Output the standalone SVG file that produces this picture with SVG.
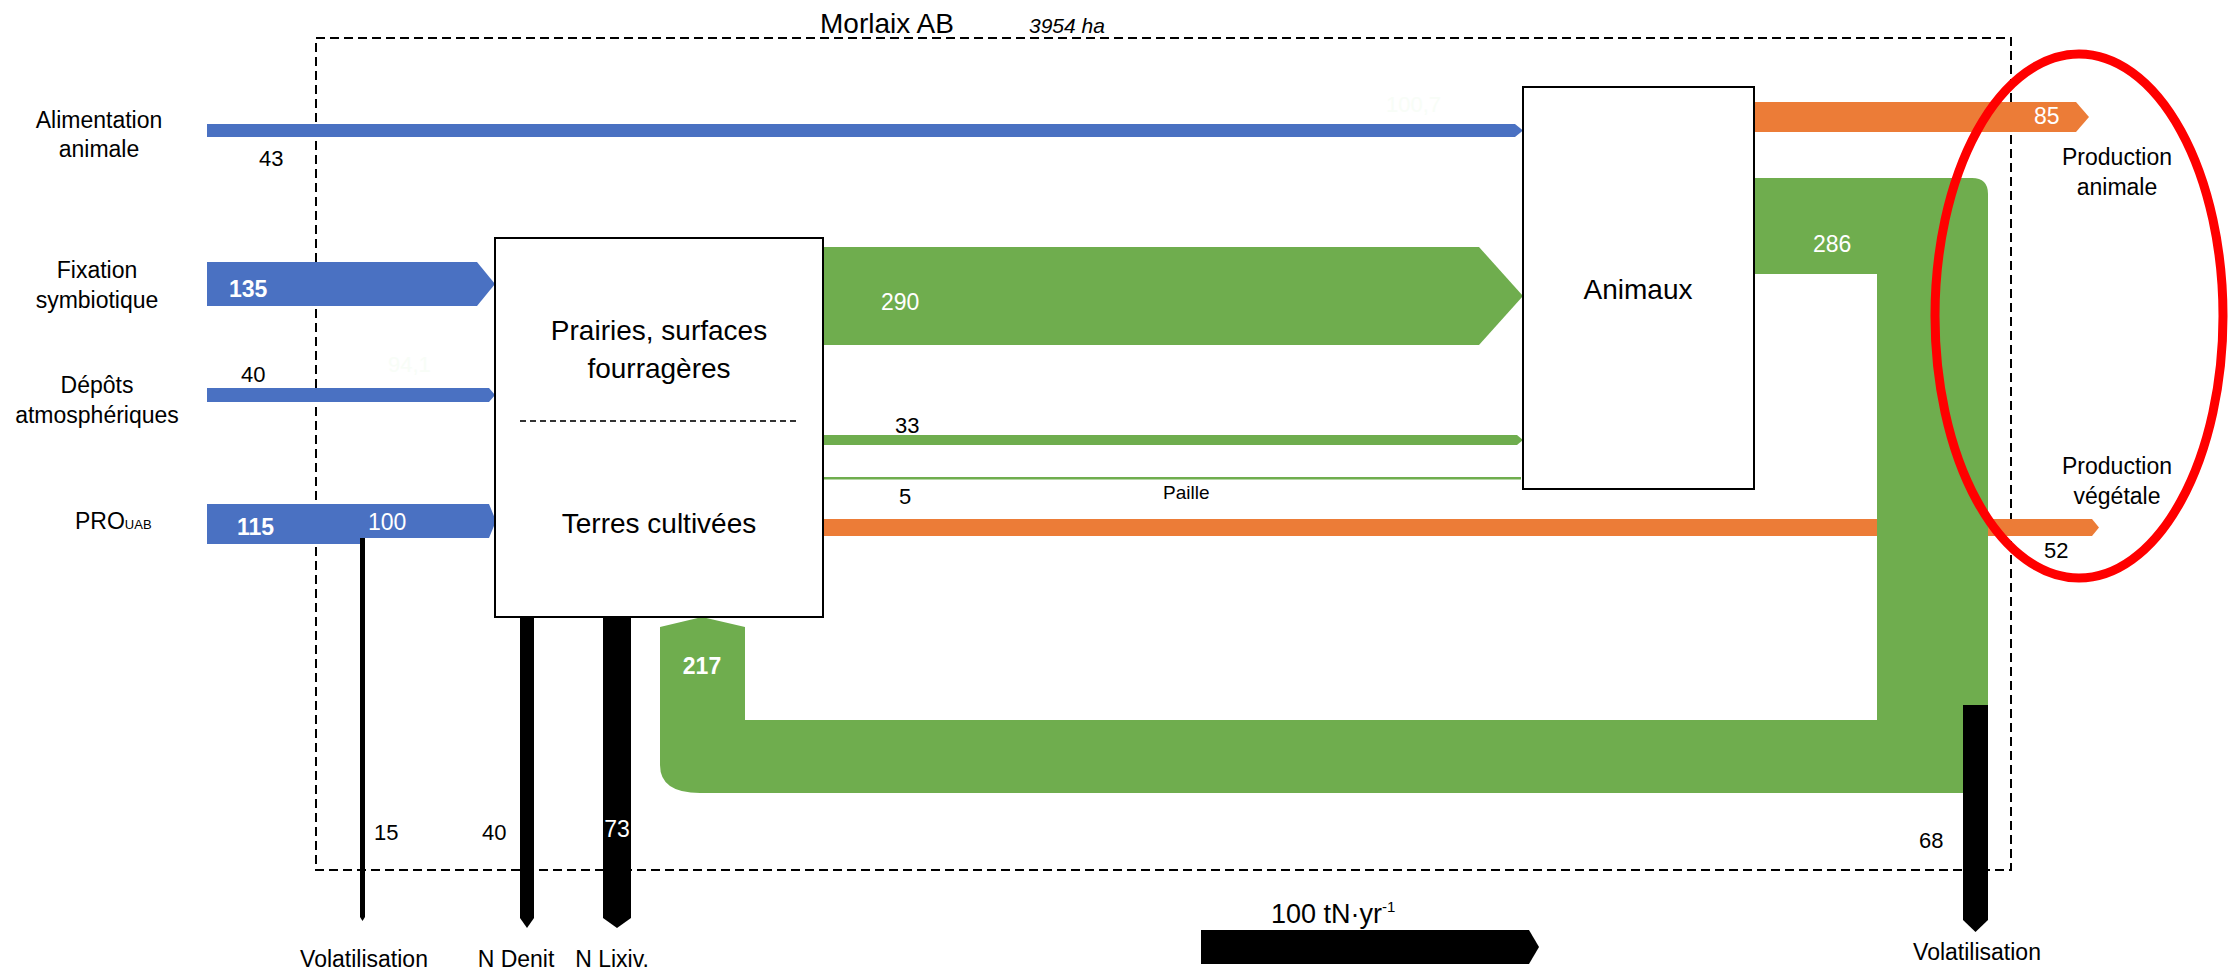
<svg xmlns="http://www.w3.org/2000/svg" width="2228" height="973" viewBox="0 0 2228 973">
  <style>
    text { font-family: "Liberation Sans", Arial, sans-serif; fill: #000; }
    .lbl { font-size: 23px; text-anchor: middle; }
    .num { font-size: 22px; }
    .wnum { font-size: 23px; fill: #fff; }
    .bold { font-weight: bold; }
    .box { fill: #fff; stroke: #000; stroke-width: 2; }
    .boxtxt { font-size: 28px; text-anchor: middle; }
    .blue { fill: #4A71C2; }
    .green { fill: #6FAD4E; }
    .orange { fill: #EC7C37; }
    .black { fill: #000; }
    .faint { font-size: 22px; fill: #F8FDF7; }
  </style>

  <rect width="2228" height="973" fill="#fff"/>

  <!-- system boundary -->
  <g id="boundary">
    <rect x="316" y="38" width="1695" height="832" fill="none" stroke="#000" stroke-width="2" stroke-dasharray="9 5"/>
    <text x="820" y="33" font-size="28">Morlaix AB</text>
    <text x="1029" y="33" font-size="21" font-style="italic">3954 ha</text>
  </g>

  <g id="connectors">
    <!-- inputs -->
    <polygon class="blue" points="207,124 1515,124 1523,130.5 1515,137 207,137"/>
    <polygon class="blue" points="207,262 477,262 495,284 477,306 207,306"/>
    <polygon class="blue" points="207,388 489,388 495,395 489,402 207,402"/>
    <polygon class="blue" points="207,504 489,504 496,521 489,538 364,538 364,544 207,544"/>

    <!-- losses -->
    <polygon class="black" points="360,538 365,538 365,917 362.5,921 360,917"/>
    <polygon class="black" points="520,617 534,617 534,918 527,928 520,918"/>
    <polygon class="black" points="603,617 631,617 631,918 617,928 603,918"/>

    <!-- crops to animals -->
    <polygon class="green" points="823,247 1479,247 1523,296 1479,345 823,345"/>
    <polygon class="green" points="823,435 1517,435 1523,440 1517,445 823,445"/>
    <rect class="green" x="823" y="477" width="698" height="2.5"/>

    <!-- outputs -->
    <polygon class="orange" points="823,519 2092,519 2099,527.5 2092,536 823,536"/>
    <polygon class="orange" points="1754,102 2076,102 2089,117 2076,132 1754,132"/>

    <!-- manure return loop -->
    <path class="green" d="M1754,178 H1972 Q1988,178 1988,194 V793 H700 Q660,793 660,765 V627 L702,617 L745,627 V720 H1877 V274 H1754 Z"/>

    <!-- volatilisation from livestock -->
    <polygon class="black" points="1963,705 1988,705 1988,920 1975.5,932 1963,920"/>

    <!-- scale -->
    <polygon class="black" points="1201,930 1529,930 1539,947 1529,964 1201,964"/>
  </g>

  <g id="prairies">
    <rect class="box" x="495" y="238" width="328" height="379"/>
    <text class="boxtxt" x="659" y="340">Prairies, surfaces</text>
    <text class="boxtxt" x="659" y="378">fourragères</text>
    <line x1="520" y1="421" x2="800" y2="421" stroke="#333" stroke-width="2" stroke-dasharray="6 4"/>
    <text class="boxtxt" x="659" y="533">Terres cultivées</text>
  </g>

  <g id="animaux">
    <rect class="box" x="1523" y="87" width="231" height="402"/>
    <text class="boxtxt" x="1638" y="299">Animaux</text>
  </g>

  <g id="labels">
    <text class="lbl" x="99" y="128">Alimentation</text>
    <text class="lbl" x="99" y="157">animale</text>
    <text class="num" x="259" y="166">43</text>
    <text class="faint" x="1386" y="112">100,7</text>

    <text class="lbl" x="97" y="278">Fixation</text>
    <text class="lbl" x="97" y="308">symbiotique</text>
    <text class="wnum bold" x="229" y="297">135</text>

    <text class="lbl" x="97" y="393">Dépôts</text>
    <text class="lbl" x="97" y="423">atmosphériques</text>
    <text class="num" x="241" y="382">40</text>
    <text class="faint" x="388" y="372">94,1</text>

    <text x="75" y="529" font-size="23">PRO<tspan font-size="13">UAB</tspan></text>
    <text class="wnum bold" x="237" y="535">115</text>
    <text class="wnum" x="368" y="530">100</text>

    <text class="num" x="374" y="840">15</text>
    <text class="num" x="482" y="840">40</text>
    <text class="wnum" x="617" y="837" text-anchor="middle">73</text>
    <text class="lbl" x="364" y="967" font-size="22">Volatilisation</text>
    <text class="lbl" x="516" y="967" font-size="22">N Denit</text>
    <text class="lbl" x="612" y="967" font-size="22">N Lixiv.</text>

    <text class="wnum bold" x="702" y="674" text-anchor="middle">217</text>
    <text class="wnum" x="881" y="310">290</text>
    <text class="num" x="895" y="433">33</text>
    <text class="num" x="899" y="504">5</text>
    <text x="1163" y="499" font-size="19">Paille</text>

    <text class="wnum" x="1813" y="252">286</text>
    <text class="wnum" x="2034" y="124">85</text>
    <text class="lbl" x="2117" y="165">Production</text>
    <text class="lbl" x="2117" y="195">animale</text>
    <text class="lbl" x="2117" y="474">Production</text>
    <text class="lbl" x="2117" y="504">végétale</text>
    <text class="num" x="2044" y="558">52</text>
    <text class="num" x="1919" y="848">68</text>
    <text class="lbl" x="1977" y="960" font-size="22">Volatilisation</text>

    <text x="1271" y="923" font-size="27">100 tN·yr<tspan font-size="15" dy="-11">-1</tspan></text>
  </g>

  <!-- highlight -->
  <ellipse cx="2079" cy="316" rx="144" ry="262" fill="none" stroke="#FF0000" stroke-width="9"/>
</svg>
